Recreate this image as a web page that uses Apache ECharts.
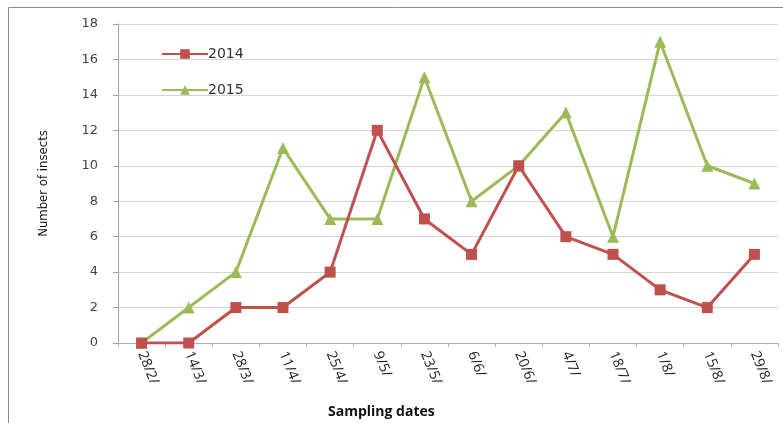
<!DOCTYPE html>
<html><head><meta charset="utf-8">
<script src="https://cdn.jsdelivr.net/npm/echarts@6/dist/echarts.min.js"></script>
<style>html,body{margin:0;padding:0;background:#fff}#c{width:783px;height:423px}</style>
</head><body><div id="c"></div>
<script>
const categories = ['28/2/','14/3/','28/3/','11/4/','25/4/','9/5/','23/5/','6/6/','20/6/','4/7/','18/7/','1/8/','15/8/','29/8/'];
const s2014 = [0,0,2,2,4,12,7,5,10,6,5,3,2,5];
const s2015 = [0,2,4,11,7,7,15,8,10,13,6,17,10,9];
const yTicks = [0,2,4,6,8,10,12,14,16,18];

const chart = echarts.init(document.getElementById('c'));
chart.setOption({
  animation: false,
  backgroundColor: '#fff',
  grid: {left: 118, right: 5, top: 24, bottom: 80, containLabel: false},
  legend: {
    left: 156, top: 42, orient: 'vertical', itemGap: 22, itemWidth: 46, itemHeight: 12,
    textStyle: {fontFamily: 'DejaVu Sans', fontSize: 14, color: '#333', padding: [0,0,0,-5]},
    data: ['2014','2015']
  },
  xAxis: {
    type: 'category', data: categories, boundaryGap: true,
    axisLine: {lineStyle: {color: '#b0b0b0', width: 1}},
    axisTick: {show: true, length: 4, lineStyle: {color: '#b0b0b0'}},
    axisLabel: {rotate: -68, margin: 9, fontFamily: 'Open Sans', fontSize: 14, color: '#222', interval: 0}
  },
  yAxis: {
    type: 'value', min: 0, max: 18, interval: 2,
    name: 'Number of insects', nameLocation: 'middle', nameGap: 68,
    nameTextStyle: {fontFamily: 'DejaVu Sans Condensed', fontSize: 13, color: '#111'},
    axisLine: {show: true, lineStyle: {color: '#a0a0a0'}},
    axisTick: {show: true, length: 5, inside: false, lineStyle: {color: '#a0a0a0'}},
    axisLabel: {margin: 20, fontFamily: 'DejaVu Sans', fontSize: 13, color: '#444',
      formatter: v => yTicks.includes(v) ? String(v) : ''},
    splitLine: {lineStyle: {color: '#d4d4d4', width: 1}}
  },
  graphic: [
    {type: 'rect', shape: {x: 8.5, y: 7.5, width: 800, height: 500}, style: {fill: 'none', stroke: '#8a8a8a', lineWidth: 1}},
    {type: 'text', left: 328, top: 405, style: {text: 'Sampling dates', font: 'bold 14px "Open Sans"', fill: '#111'}}
  ],
  series: [
    {name: '2014', type: 'line', data: s2014, color: '#C0504D',
      lineStyle: {width: 3}, symbol: 'rect', symbolSize: 11, z: 3},
    {name: '2015', type: 'line', data: s2015, color: '#9BBB59',
      lineStyle: {width: 3}, symbol: 'triangle', symbolSize: 12, z: 2}
  ]
});
</script></body></html>
